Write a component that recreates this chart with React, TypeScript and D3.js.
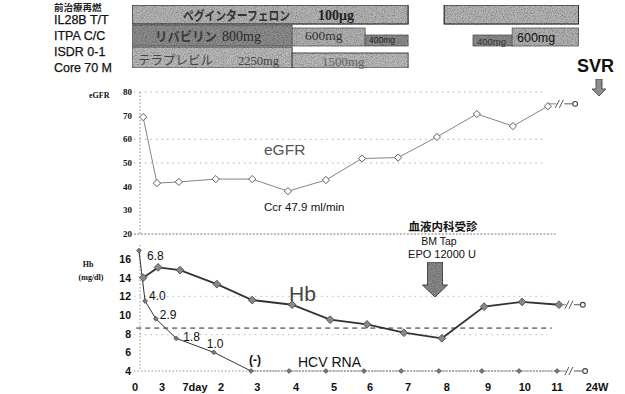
import React from "react";
import * as d3 from "d3";

// ---------- data ----------
const patientInfo = ["IL28B T/T", "ITPA C/C", "ISDR 0-1", "Core 70 M"];

const xTickLabels = ["0", "3", "7day", "2", "3", "4", "5", "6", "7", "8", "9", "10", "11", "24W"];
const xTickWeeks = [-0.05, 0.65, 1.51, 2.19, 3.13, 4.14, 5.13, 6.07, 7.06, 8.07, 9.14, 10.1, 10.94, 11.98];

const eGFRTicks = [80, 70, 60, 50, 40, 30, 20];
const eGFRGrid = [80, 60, 50];
const eGFRWeeks = [0.16, 0.52, 1.09, 2.05, 3.0, 3.93, 4.92, 5.86, 6.8, 7.81, 8.85, 9.79, 10.7];
const eGFRValues = [69.4, 41.5, 42.0, 43.2, 43.2, 38.1, 42.8, 51.9, 52.3, 61.0, 70.7, 65.6, 74.0];
const eGFRWeek24 = 11.41;
const eGFRValue24 = 75;

const hbTicks = [16, 14, 12, 10, 8, 6, 4];
const hbGrid = [12, 8];
const hbThreshold = 8.6;
const hbWeeks = [0.16, 0.55, 1.12, 2.08, 3.0, 4.04, 5.03, 5.99, 6.95, 7.94, 9.04, 10.03, 10.99];
const hbValues = [14.0, 15.1, 14.8, 13.3, 11.6, 11.1, 9.5, 9.0, 8.1, 7.5, 10.9, 11.4, 11.1];
const hbWeek24 = 11.61;
const hbValue24 = 11.1;

const hcvWeeks = [0.05, 0.21, 0.49, 1.02, 2.0, 2.97, 3.96, 4.92, 5.91, 6.88, 7.86, 8.98, 9.95, 10.94];
const hcvLevels = [16.9, 11.5, 9.6, 7.5, 6.0, 4, 4, 4, 4, 4, 4, 4, 4, 4];
const hcvLabels = ["6.8", "4.0", "2.9", "1.8", "1.0", "(-)"];
const hcvWeek24 = 11.67;
const hcvLevel24 = 4;

const pegStart = [-0.13, 8.0];
const pegEnd = [7.06, 11.5];
const ribaStart = [-0.13, 4.04, 5.94, 8.75, 9.77];
const ribaEnd = [4.04, 5.94, 7.06, 9.77, 11.5];
const ribaDose = [800, 600, 400, 400, 600];
const telaStart = [-0.13, 4.04];
const telaEnd = [4.04, 7.06];
const telaDose = [2250, 1500];

// ---------- layout (annotation offsets) ----------
const hcvLabelDx = [8, 4, 4, 7, -7, -2];
const hcvLabelDy = [9, -1, 0, 3, -4, -7];

const SANS = "'Liberation Sans', Arial, sans-serif";
const SERIF = "'Liberation Serif', 'Times New Roman', serif";
const CJK = "'Noto Sans CJK JP', sans-serif";

function downArrow(cx: number, top: number, bottom: number, shaftW: number, headW: number, headH: number) {
  const hs = bottom - headH;
  return `M${cx - shaftW / 2},${top} L${cx + shaftW / 2},${top} L${cx + shaftW / 2},${hs} L${cx + headW / 2},${hs} L${cx},${bottom} L${cx - headW / 2},${hs} L${cx - shaftW / 2},${hs} Z`;
}

function BreakMark({ x0, x1, y, endX }: { x0: number; x1: number; y: number; endX: number }) {
  const c = x0 + (x1 - x0) * 0.42;
  return (
    <g stroke="#444" strokeWidth={0.9} fill="none">
      <line x1={x0} y1={y} x2={c - 3} y2={y} stroke="#777" />
      <line x1={c - 4} y1={y + 4} x2={c} y2={y - 4} />
      <line x1={c} y1={y + 4} x2={c + 4} y2={y - 4} />
      <line x1={c + 5} y1={y} x2={endX - 2.5} y2={y} />
      <circle cx={endX} cy={y} r={2.4} fill="#fff" strokeWidth={1.1} />
    </g>
  );
}

export default function App() {
  const x = d3.scaleLinear().domain([0, 11]).range([137, 559.4]);
  const yE = d3.scaleLinear().domain([20, 80]).range([234, 92]);
  const yH = d3.scaleLinear().domain([4, 16]).range([371, 259]);

  const ribaH = d3.scaleLinear().domain([400, 600, 800]).range([11, 18, 21]);
  const telaH = d3.scaleLinear().domain([1500, 2250]).range([15, 21]);
  const ribaFill = d3.scaleOrdinal<number, string>().domain([800, 600, 400]).range(["#8e8e8e", "#b3b3b3", "#8c8c8c"]);

  const line = d3.line<[number, number]>();

  const eGFRPts: [number, number][] = eGFRWeeks.map((w, i) => [x(w), yE(eGFRValues[i])]);
  const hbPts: [number, number][] = hbWeeks.map((w, i) => [x(w), yH(hbValues[i])]);
  const hcvPts: [number, number][] = hcvWeeks.map((w, i) => [x(w), yH(hcvLevels[i])]);

  const sq = d3.symbol().type(d3.symbolSquare);
  const diamondE = sq.size(26)()!;
  const diamondH = sq.size(30)()!;
  const diamondV = sq.size(12)()!;

  const gridX1 = x(-0.08);
  const gridX2 = x(10.9);

  return (
    <svg width={625} height={394} style={{ position: "absolute", left: 0, top: 0, background: "#fff" }}>
      <defs>
        <filter id="grain" x="0" y="0" width="100%" height="100%">
          <feTurbulence type="fractalNoise" baseFrequency="0.9" numOctaves="2" seed="3" result="n" />
          <feColorMatrix in="n" type="matrix" values="0 0 0 0 0  0 0 0 0 0  0 0 0 0 0  0 0 0 -1.2 0.75" result="a" />
          <feComposite in="a" in2="SourceGraphic" operator="in" result="b" />
          <feMerge>
            <feMergeNode in="SourceGraphic" />
            <feMergeNode in="b" />
          </feMerge>
        </filter>
      </defs>
      <rect width={625} height={394} fill="#fff" />

      {/* header and patient info */}
      <text x={54} y={11} fontFamily={CJK} fontWeight={700} fontSize={9.5} fill="#222">前治療再燃</text>
      {patientInfo.map((t, i) => (
        <text key={t} x={54} y={23.5 + i * 16.2} fontFamily={SANS} fontSize={12.5} fill="#111" stroke="#111" strokeWidth={0.25} textLength={t === "Core 70 M" ? 58 : undefined}>
          {t}
        </text>
      ))}

      {/* treatment bars */}
      <g filter="url(#grain)">
        {pegStart.map((s, i) => (
          <rect key={"p" + i} x={x(s)} y={5} width={x(pegEnd[i]) - x(s)} height={19} fill="#b6b6b6" stroke="#333" strokeWidth={1.2} />
        ))}
        {ribaStart.map((s, i) => (
          <rect key={"r" + i} x={x(s)} y={46 - ribaH(ribaDose[i])} width={x(ribaEnd[i]) - x(s)} height={ribaH(ribaDose[i])} fill={ribaFill(ribaDose[i])} stroke="#555" strokeWidth={0.7} />
        ))}
        {telaStart.map((s, i) => (
          <rect key={"t" + i} x={x(s)} y={68 - telaH(telaDose[i])} width={x(telaEnd[i]) - x(s)} height={telaH(telaDose[i])} fill="#bbbbbb" stroke="#444" strokeWidth={0.9} />
        ))}
      </g>
      <text x={183} y={20} fontFamily={CJK} fontWeight={700} fontSize={13} fill="#333" textLength={107} lengthAdjust="spacingAndGlyphs">ペグインターフェロン</text>
      <text x={318} y={20} fontFamily={SERIF} fontWeight={700} fontSize={14} fill="#222">100μg</text>
      <text x={155} y={41} fontFamily={CJK} fontWeight={700} fontSize={13} fill="#3a3a3a" textLength={62} lengthAdjust="spacingAndGlyphs">リバビリン</text>
      <text x={222} y={41} fontFamily={SERIF} fontSize={14} fill="#2a2a2a">800mg</text>
      <text x={305} y={40} fontFamily={SERIF} fontSize={13.5} fill="#333">600mg</text>
      <text x={369} y={43} fontFamily={SANS} fontSize={8.5} fill="#222">400mg</text>
      <text x={138} y={65} fontFamily={CJK} fontSize={12.5} fill="#444" textLength={75} lengthAdjust="spacingAndGlyphs">テラプレビル</text>
      <text x={238} y={65} fontFamily={SERIF} fontSize={12.5} fill="#444">2250mg</text>
      <text x={322} y={66} fontFamily={SERIF} fontSize={13} fill="#666">1500mg</text>
      <text x={477} y={45} fontFamily={SANS} fontSize={9.5} fill="#333">400mg</text>
      <text x={517} y={42} fontFamily={SANS} fontSize={12.5} fill="#111">600mg</text>

      {/* SVR */}
      <text x={577} y={72} fontFamily={SANS} fontWeight={700} fontSize={18} fill="#111">SVR</text>
      <path d={downArrow(599, 79, 96, 6, 14, 7)} fill="#999" stroke="#444" strokeWidth={0.8} filter="url(#grain)" />

      {/* eGFR chart */}
      <text x={89} y={98} fontFamily={SERIF} fontWeight={700} fontSize={8} fill="#111">eGFR</text>
      {eGFRTicks.map((t) => (
        <text key={t} x={132} y={yE(t) + 3} textAnchor="end" fontFamily={SERIF} fontWeight={700} fontSize={9} fill="#111">{t}</text>
      ))}
      {eGFRGrid.map((g) => (
        <line key={g} x1={gridX1} x2={gridX2 - 10} y1={yE(g)} y2={yE(g)} stroke="#999" strokeWidth={0.8} strokeDasharray="1.5 4" />
      ))}
      <line x1={gridX1} x2={gridX2} y1={yE(20)} y2={yE(20)} stroke="#555" strokeWidth={0.8} strokeDasharray="2 1.5" />
      <line x1={x(0.08)} x2={x(0.08)} y1={yE(80)} y2={yE(20)} stroke="#666" strokeWidth={0.8} strokeDasharray="1.5 2" />
      <path d={line(eGFRPts)!} fill="none" stroke="#777" strokeWidth={0.9} />
      {eGFRPts.map(([px, py], i) => (
        <path key={i} d={diamondE} transform={`translate(${px},${py}) rotate(45)`} fill="#fff" stroke="#555" strokeWidth={0.9} />
      ))}
      <BreakMark x0={x(eGFRWeeks[eGFRWeeks.length - 1])} x1={x(eGFRWeek24)} y={yE(eGFRValue24)} endX={x(eGFRWeek24)} />
      <text x={264} y={155} fontFamily={SANS} fontSize={15.5} fill="#555">eGFR</text>
      <text x={264} y={211} fontFamily={SANS} fontSize={11.5} fill="#111">Ccr 47.9 ml/min</text>

      {/* annotation */}
      <text x={443} y={231} textAnchor="middle" fontFamily={CJK} fontWeight={700} fontSize={11.5} fill="#111">血液内科受診</text>
      <text x={439} y={245} textAnchor="middle" fontFamily={SANS} fontSize={10.5} fill="#111">BM Tap</text>
      <text x={442} y={258} textAnchor="middle" fontFamily={SANS} fontSize={11} fill="#111">EPO 12000 U</text>
      <path d={downArrow(435, 262, 297, 15, 25, 12)} fill="#8a8a8a" stroke="#444" strokeWidth={0.9} filter="url(#grain)" />

      {/* Hb chart */}
      <text x={88} y={267} textAnchor="middle" fontFamily={SERIF} fontWeight={700} fontSize={8} fill="#111">Hb</text>
      <text x={91} y={280} textAnchor="middle" fontFamily={SERIF} fontWeight={700} fontSize={8} fill="#111">(mg/dl)</text>
      {hbTicks.map((t) => (
        <text key={t} x={131} y={yH(t) + 4} textAnchor="end" fontFamily={SANS} fontWeight={700} fontSize={10.5} fill="#111">{t}</text>
      ))}
      {hbGrid.map((g) => (
        <line key={g} x1={gridX1} x2={gridX2 - 8} y1={yH(g) + (g === 8 ? 1 : 0)} y2={yH(g) + (g === 8 ? 1 : 0)} stroke="#aaa" strokeWidth={0.8} strokeDasharray="1.5 4" />
      ))}
      <line x1={gridX1} x2={gridX2} y1={yH(4)} y2={yH(4)} stroke="#777" strokeWidth={0.8} strokeDasharray="1.5 2" />
      <line x1={x(0.08)} x2={x(0.08)} y1={yH(17.5)} y2={yH(4)} stroke="#777" strokeWidth={0.8} strokeDasharray="1.5 2" />
      <line x1={x(-0.02)} x2={x(10.8)} y1={yH(hbThreshold)} y2={yH(hbThreshold)} stroke="#222" strokeWidth={1} strokeDasharray="5 4" />

      {/* HCV RNA */}
      <path d={line(hcvPts.slice(0, 6))!} fill="none" stroke="#333" strokeWidth={1} />
      <path d={line(hcvPts.slice(5))!} fill="none" stroke="#777" strokeWidth={0.9} strokeDasharray="2 1" />
      {hcvPts.map(([px, py], i) => (
        <path key={i} d={diamondV} transform={`translate(${px},${py}) rotate(45)`} fill="#777" stroke="#444" strokeWidth={0.6} />
      ))}
      <BreakMark x0={x(hcvWeeks[hcvWeeks.length - 1])} x1={x(hcvWeek24)} y={yH(hcvLevel24)} endX={x(hcvWeek24)} />
      {hcvLabels.map((t, i) => (
        <text key={i} x={hcvPts[i][0] + hcvLabelDx[i]} y={hcvPts[i][1] + hcvLabelDy[i]} fontFamily={SANS} fontWeight={t === "(-)" ? 700 : 400} fontSize={12} fill="#111">{t}</text>
      ))}
      <text x={298} y={367} fontFamily={SANS} fontSize={14} fill="#111">HCV RNA</text>

      {/* Hb line */}
      <path d={line(hbPts)!} fill="none" stroke="#333" strokeWidth={1.8} />
      {hbPts.map(([px, py], i) => (
        <path key={i} d={diamondH} transform={`translate(${px},${py}) rotate(45)`} fill="#888" stroke="#444" strokeWidth={0.8} />
      ))}
      <BreakMark x0={x(hbWeeks[hbWeeks.length - 1])} x1={x(hbWeek24)} y={yH(hbValue24)} endX={x(hbWeek24)} />
      <text x={289} y={301} fontFamily={SANS} fontSize={21} fill="#444">Hb</text>

      {/* x axis labels */}
      {xTickLabels.map((t, i) => (
        <text key={i} x={x(xTickWeeks[i])} y={391} textAnchor="middle" fontFamily={SANS} fontWeight={700} fontSize={11} fill="#111">{t}</text>
      ))}
    </svg>
  );
}
